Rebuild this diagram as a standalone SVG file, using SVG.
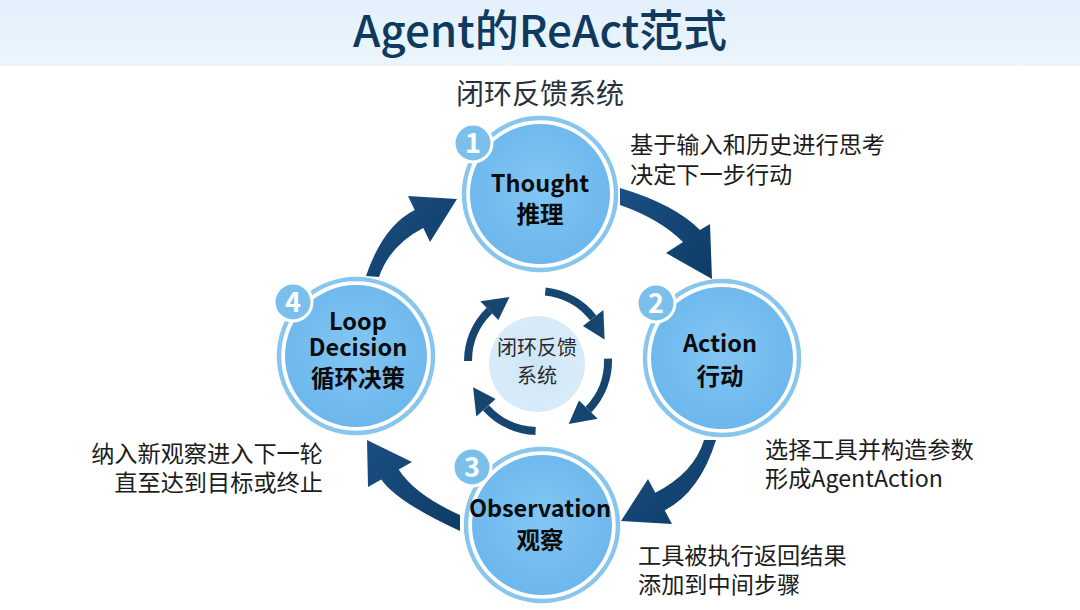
<svg xmlns="http://www.w3.org/2000/svg" width="1080" height="610" viewBox="0 0 1080 610">
  <defs>
    <linearGradient id="hdr" x1="0" y1="0" x2="0" y2="1">
      <stop offset="0" stop-color="#e3f0fb"/>
      <stop offset="1" stop-color="#ebf5fd"/>
    </linearGradient>
    <radialGradient id="nodeFill" cx="0.5" cy="0.45" r="0.55">
      <stop offset="0" stop-color="#82c6f3"/>
      <stop offset="1" stop-color="#6cb7ed"/>
    </radialGradient>
    <radialGradient id="coreFill" cx="0.5" cy="0.5" r="0.5">
      <stop offset="0" stop-color="#cfe6f8"/>
      <stop offset="1" stop-color="#d8ebf9"/>
    </radialGradient>
    <linearGradient id="arrowFill" x1="0" y1="0" x2="1" y2="1">
      <stop offset="0" stop-color="#1a4f82"/>
      <stop offset="1" stop-color="#0f3b66"/>
    </linearGradient>
  </defs>
  <style>
    .ring { fill: none; stroke: #89c6ee; stroke-width: 4.5; }
    .fill { fill: url(#nodeFill); }
    .badge { fill: #7bc0ec; stroke: #ffffff; stroke-width: 3; }
    .num { font-family: "Noto Sans CJK SC", "Noto Sans", sans-serif; font-weight: 700; font-size: 27px; fill: #ffffff; text-anchor: middle; }
    .lbl { font-family: "Noto Sans CJK SC", "Noto Sans", sans-serif; font-weight: 700; font-size: 23.5px; fill: #0b0b0b; text-anchor: middle; }
    .desc { font-family: "Noto Sans CJK SC", "Noto Sans", sans-serif; font-size: 23.2px; fill: #1c1c1c; }
    .big { fill: url(#arrowFill); }
    .small { fill: none; stroke: #16456f; stroke-width: 8; }
    .smallhead { fill: #16456f; }
  </style>

  <rect x="0" y="0" width="1080" height="610" fill="#ffffff"/>
  <rect x="0" y="0" width="1080" height="66" fill="url(#hdr)"/>
  <text x="540" y="47" text-anchor="middle" font-family="Noto Sans CJK SC, Noto Sans, sans-serif" font-size="44" font-weight="500" fill="#10395e">Agent的ReAct范式</text>
  <text x="540" y="104" text-anchor="middle" font-family="Noto Sans CJK SC, Noto Sans, sans-serif" font-size="28" fill="#27313b">闭环反馈系统</text>

  <g id="connectors">
    <path class="big" d="M620,188 Q674,204 700,230 L710,224 L712,279 L666,253 L683,242 Q660,219 620,205 Z"/>
    <path class="big" d="M704,440 Q694,473 655.3,492.7 L648,479 L621,521 L672,524 L664.7,510.3 Q700,492 716,440 Z"/>
    <path class="big" d="M460,515 Q415,495 398.7,469.6 L412,462 L367,440 L368,487 L381.3,479.4 Q397,502 460,531 Z"/>
    <path class="big" d="M366,276 Q383,226 414.7,210 L408,196 L457,199 L430,242 L423.3,228 Q390,245 379,277 Z"/>

    <path class="small" d="M545.3,291.4 A70 70 0 0 1 593.2,317.9"/>
    <polygon class="smallhead" points="603.4,309.9 604.6,339.4 582.9,325.9"/>
    <path class="small" d="M608,358.6 A70 70 0 0 1 588.4,409.6"/>
    <polygon class="smallhead" points="597.7,418.7 568.7,423.9 579,400.6"/>
    <path class="small" d="M535.6,431 A70 70 0 0 1 486,407.8"/>
    <polygon class="smallhead" points="476.3,416.5 473.1,387.2 495.6,399.1"/>
    <path class="small" d="M468,361 A70 70 0 0 1 489.4,310.6"/>
    <polygon class="smallhead" points="480.3,301.3 509.5,297.1 498.4,320"/>
  </g>

  <g id="core">
    <circle cx="537" cy="364" r="48" fill="url(#coreFill)"/>
    <text x="537" y="355" text-anchor="middle" font-family="Noto Sans CJK SC, Noto Sans, sans-serif" font-size="20" fill="#2a2a2a">闭环反馈</text>
    <text x="537" y="383" text-anchor="middle" font-family="Noto Sans CJK SC, Noto Sans, sans-serif" font-size="20" fill="#2a2a2a">系统</text>
  </g>

  <g id="thought">
    <circle class="ring" cx="540" cy="194" r="76"/>
    <circle class="fill" cx="540" cy="194" r="70"/>
    <circle class="badge" cx="473" cy="143" r="19"/>
    <text class="num" x="473" y="152.5">1</text>
    <text class="lbl" x="540" y="192">Thought</text>
    <text class="lbl" x="540" y="223">推理</text>
  </g>

  <g id="action">
    <circle class="ring" cx="722" cy="358" r="77"/>
    <circle class="fill" cx="722" cy="358" r="71"/>
    <circle class="badge" cx="656" cy="303" r="19"/>
    <text class="num" x="656" y="312.5">2</text>
    <text class="lbl" x="720" y="352">Action</text>
    <text class="lbl" x="720" y="385">行动</text>
  </g>

  <g id="observation">
    <circle class="ring" cx="542" cy="525" r="76"/>
    <circle class="fill" cx="542" cy="525" r="70"/>
    <circle class="badge" cx="472" cy="467" r="19"/>
    <text class="num" x="472" y="476.5">3</text>
    <text class="lbl" x="540" y="517">Observation</text>
    <text class="lbl" x="540" y="549">观察</text>
  </g>

  <g id="loop">
    <circle class="ring" cx="356" cy="356" r="77"/>
    <circle class="fill" cx="356" cy="356" r="71"/>
    <circle class="badge" cx="293" cy="302" r="19"/>
    <text class="num" x="293" y="311.5">4</text>
    <text class="lbl" x="358" y="330">Loop</text>
    <text class="lbl" x="358" y="356">Decision</text>
    <text class="lbl" x="358" y="387">循环决策</text>
  </g>

  <g id="descriptions">
    <text class="desc" x="630" y="153">基于输入和历史进行思考</text>
    <text class="desc" x="630" y="183">决定下一步行动</text>
    <text class="desc" x="765" y="458">选择工具并构造参数</text>
    <text class="desc" x="765" y="487">形成AgentAction</text>
    <text class="desc" x="638" y="564">工具被执行返回结果</text>
    <text class="desc" x="638" y="593">添加到中间步骤</text>
    <text class="desc" x="323" y="462" text-anchor="end">纳入新观察进入下一轮</text>
    <text class="desc" x="323" y="491" text-anchor="end">直至达到目标或终止</text>
  </g>
</svg>
